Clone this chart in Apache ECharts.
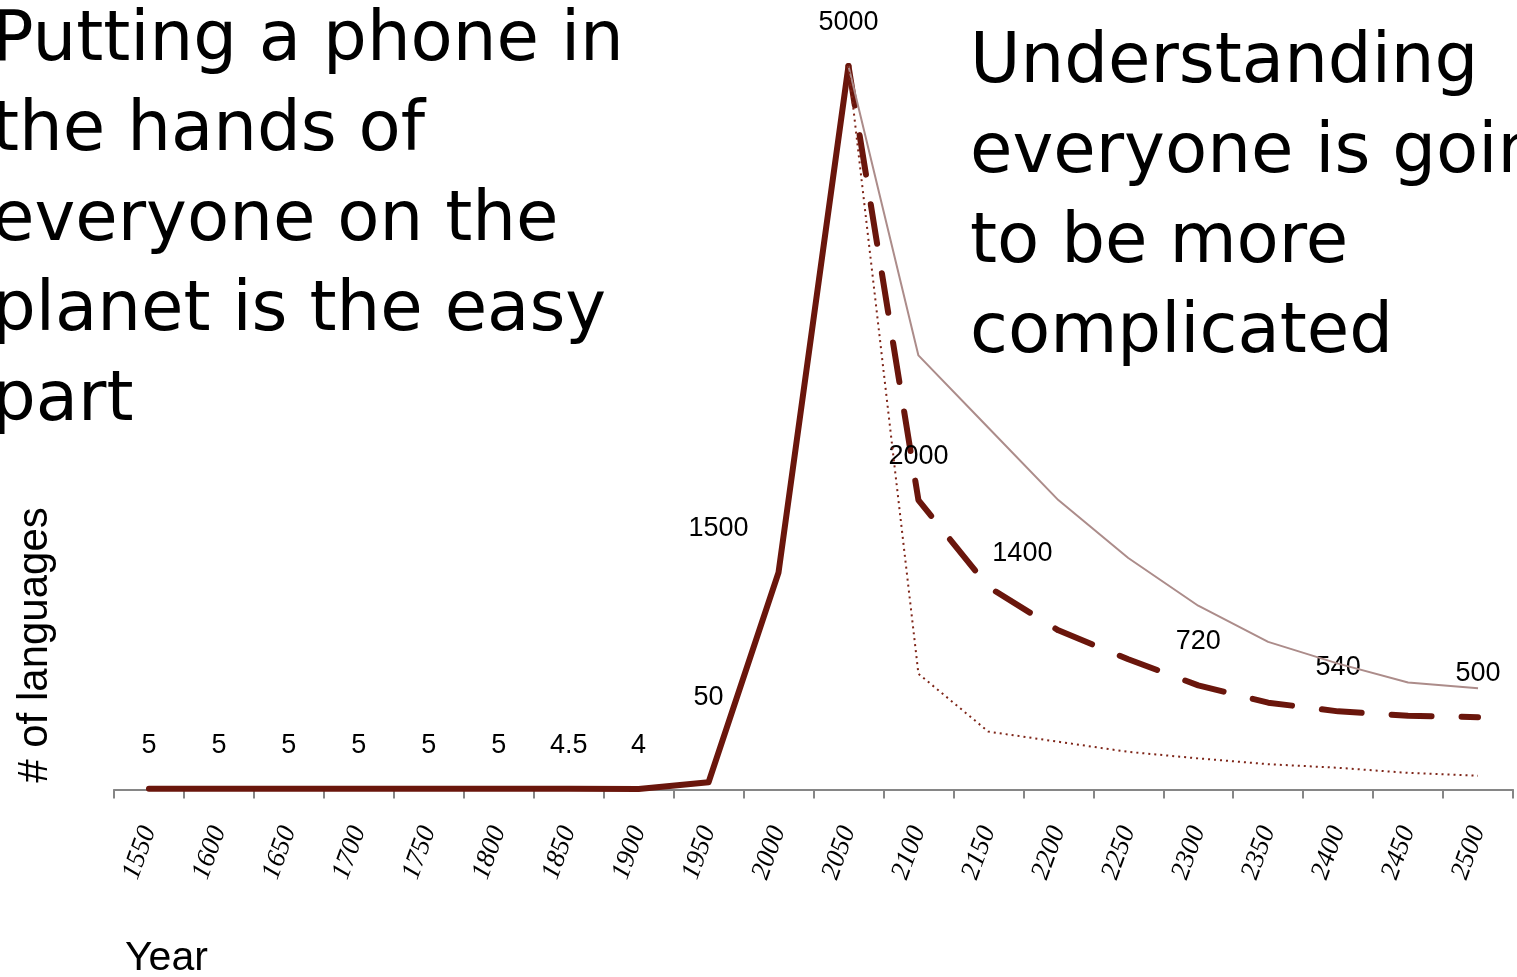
<!DOCTYPE html>
<html>
<head>
<meta charset="utf-8">
<script src="https://cdn.jsdelivr.net/npm/echarts@6/dist/echarts.min.js"></script>
<style>
  html, body { margin: 0; padding: 0; background: #fff; }
  #chart { width: 1517px; height: 977px; }
</style>
</head>
<body>
<div id="chart"></div>
<script>
// Years on the category axis
const years = ['1550', '1600', '1650', '1700', '1750', '1800', '1850', '1900', '1950', '2000',
               '2050', '2100', '2150', '2200', '2250', '2300', '2350', '2400', '2450', '2500'];

// Number of languages understood, history up to the 2050 peak
const history = [5, 5, 5, 5, 5, 5, 4.5, 4, 50, 1500, 5000,
                 null, null, null, null, null, null, null, null, null];

// Three scenarios after the peak
const midScenario = [null, null, null, null, null, null, null, null, null, null,
                     5000, 2000, 1400, 1100, 900, 720, 600, 540, 510, 500];
const highScenario = [null, null, null, null, null, null, null, null, null, null,
                      5000, 3000, 2500, 2000, 1600, 1270, 1020, 870, 740, 700];
const lowScenario = [null, null, null, null, null, null, null, null, null, null,
                     5000, 800, 400, 330, 260, 215, 175, 150, 115, 95];

// Which points of the middle scenario carry a value label
const midLabelled = [11, 12, 15, 17, 19];

const leftText = 'Putting a phone in\nthe hands of\neveryone on the\nplanet is the easy\npart';
const rightText = 'Understanding\neveryone is going\nto be more\ncomplicated';

const DARK = '#6A160C';

// Build data items, shifting a few labels away from the line
function toItems(values, labelled, offsets) {
  return values.map((v, i) => {
    if (v === null) return null;
    const item = { value: v };
    if (labelled && labelled.indexOf(i) < 0) {
      item.label = { show: false };
    } else if (offsets[i]) {
      item.label = { show: true, offset: offsets[i] };
    }
    return item;
  });
}

const valueLabel = {
  show: true,
  position: 'top',
  distance: 30,
  fontFamily: 'Liberation Sans',
  fontSize: 27,
  color: '#000'
};

const chart = echarts.init(document.getElementById('chart'), null, { renderer: 'canvas' });

chart.setOption({
  animation: false,
  backgroundColor: '#fff',
  grid: { left: 114, right: 4, top: 66, bottom: 187.5, containLabel: false, outerBoundsMode: 'none' },
  xAxis: {
    type: 'category',
    data: years,
    boundaryGap: true,
    axisLine: { lineStyle: { color: '#868686', width: 2 } },
    axisTick: { show: true, length: 9, interval: 0, lineStyle: { color: '#868686', width: 2 } },
    axisLabel: {
      interval: 0,
      rotate: 70,
      margin: 38,
      fontFamily: 'Liberation Serif',
      fontStyle: 'italic',
      fontSize: 27,
      color: '#000'
    },
    splitLine: { show: false }
  },
  yAxis: {
    type: 'value',
    min: 0,
    max: 5000,
    show: false
  },
  series: [
    {
      name: 'history',
      type: 'line',
      data: toItems(history, null, { 8: [0, -41], 9: [-60, 0] }),
      symbol: 'circle',
      symbolSize: 0,
      showAllSymbol: true,
      clip: false,
      lineStyle: { color: DARK, width: 6, join: 'round', cap: 'round' },
      itemStyle: { color: DARK },
      label: valueLabel,
      emphasis: { disabled: true },
      z: 2
    },
    {
      name: 'middle',
      type: 'line',
      data: toItems(midScenario, midLabelled, { 12: [34, 10] }),
      symbol: 'circle',
      symbolSize: 0,
      showAllSymbol: true,
      clip: false,
      lineStyle: { color: DARK, width: 6, type: [40, 30], cap: 'round', join: 'round' },
      itemStyle: { color: DARK },
      label: valueLabel,
      emphasis: { disabled: true },
      z: 3
    },
    {
      name: 'high',
      type: 'line',
      data: highScenario,
      symbol: 'none',
      clip: false,
      lineStyle: { color: '#AC8C8A', width: 2 },
      emphasis: { disabled: true },
      z: 4
    },
    {
      name: 'low',
      type: 'line',
      data: lowScenario,
      symbol: 'none',
      clip: false,
      lineStyle: { color: '#7E2518', width: 2, type: [2, 4] },
      emphasis: { disabled: true },
      z: 5
    }
  ],
  graphic: [
    {
      type: 'text',
      left: -8,
      top: -3,
      style: {
        text: leftText,
        font: '69px "DejaVu Sans"',
        lineHeight: 90,
        fill: '#000'
      }
    },
    {
      type: 'text',
      left: 970,
      top: 19,
      style: {
        text: rightText,
        font: '69px "DejaVu Sans"',
        lineHeight: 90,
        fill: '#000'
      }
    },
    {
      type: 'text',
      x: 35,
      y: 645,
      rotation: Math.PI / 2,
      style: {
        text: '# of languages',
        font: '42px "Liberation Sans"',
        textAlign: 'center',
        textVerticalAlign: 'middle',
        fill: '#000'
      }
    },
    {
      type: 'text',
      x: 125,
      y: 959,
      style: {
        text: 'Year',
        font: '41px "Liberation Sans"',
        textAlign: 'left',
        textVerticalAlign: 'middle',
        fill: '#000'
      }
    }
  ]
});
</script>
</body>
</html>
